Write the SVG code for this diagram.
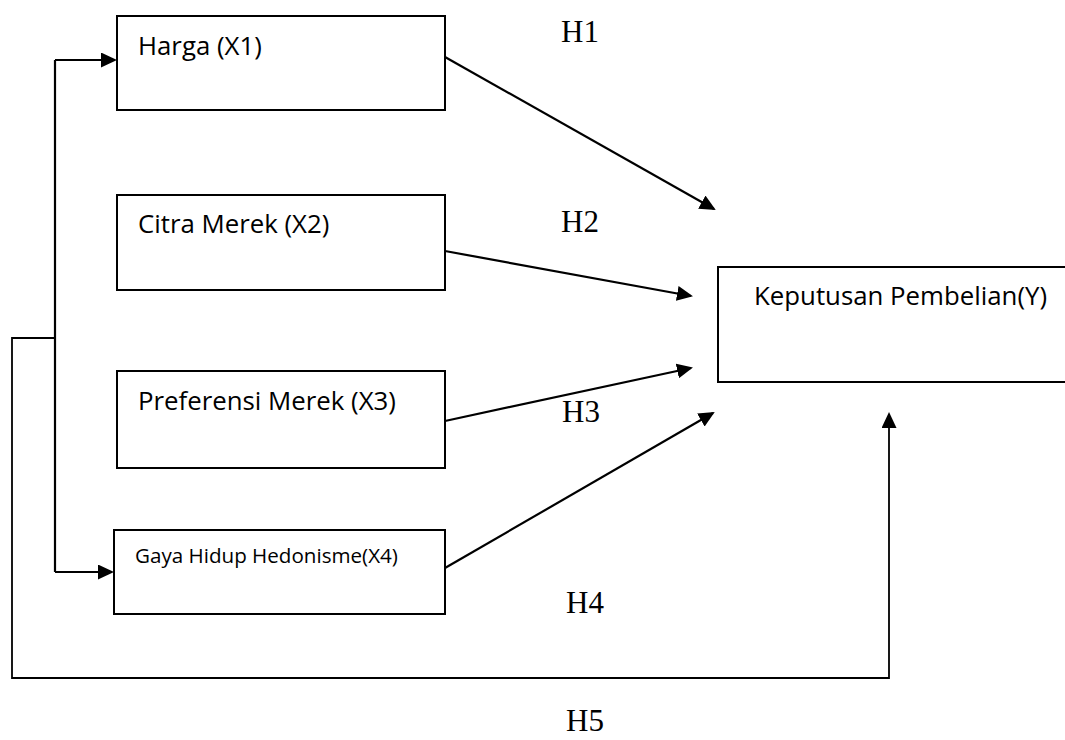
<svg xmlns="http://www.w3.org/2000/svg" width="1065" height="740" viewBox="0 0 1065 740">
<style>
.box{fill:#fff;stroke:#000;stroke-width:2}
.lbl{font-family:"Open Sans","Liberation Sans",sans-serif;font-size:25.8px;fill:#000}
.lbls{font-family:"Open Sans","Liberation Sans",sans-serif;font-size:20.6px;fill:#000}
.h{font-family:"Liberation Serif","DejaVu Serif",serif;font-size:31px;fill:#000}
.ln{fill:none;stroke:#000;stroke-width:2.2}
.ln2{fill:none;stroke:#000;stroke-width:1.8}
</style>
<defs>
<marker id="ah" markerUnits="userSpaceOnUse" markerWidth="16" markerHeight="15" refX="14" refY="7.5" orient="auto" viewBox="0 0 16 15">
<path d="M0,0 L16,7.5 L0,15 z" fill="#000"/>
</marker>
</defs>
<rect width="1065" height="740" fill="#fff"/>
<g id="connectors">
<path class="ln" d="M55,60 L55,572"/>
<path class="ln" d="M55,60 L115,60" marker-end="url(#ah)"/>
<path class="ln" d="M55,572 L112,572" marker-end="url(#ah)"/>
<path class="ln2" d="M55,338 L12,338 L12,678 L889,678 L889,414" marker-end="url(#ah)"/>
<path class="ln" d="M445,57 L714,209" marker-end="url(#ah)"/>
<path class="ln" d="M445,251 L691,296" marker-end="url(#ah)"/>
<path class="ln" d="M445,421 L691,368" marker-end="url(#ah)"/>
<path class="ln" d="M445,568 L713,413" marker-end="url(#ah)"/>
</g>
<g id="node-x1">
<rect class="box" x="117" y="16" width="328" height="94"/>
<text class="lbl" x="138" y="55">Harga (X1)</text>
</g>
<g id="node-x2">
<rect class="box" x="117" y="195" width="328" height="95"/>
<text class="lbl" x="138" y="233">Citra Merek (X2)</text>
</g>
<g id="node-x3">
<rect class="box" x="117" y="371" width="328" height="97"/>
<text class="lbl" x="138" y="410">Preferensi Merek (X3)</text>
</g>
<g id="node-x4">
<rect class="box" x="114" y="530" width="331" height="84"/>
<text class="lbls" x="135" y="563">Gaya Hidup Hedonisme(X4)</text>
</g>
<g id="node-y">
<rect class="box" x="718" y="267" width="360" height="115"/>
<text class="lbl" x="754" y="305">Keputusan Pembelian(Y)</text>
</g>
<g id="labels">
<text class="h" x="561" y="42">H1</text>
<text class="h" x="561" y="232">H2</text>
<text class="h" x="562" y="422">H3</text>
<text class="h" x="566" y="613">H4</text>
<text class="h" x="566" y="731">H5</text>
</g>
</svg>
